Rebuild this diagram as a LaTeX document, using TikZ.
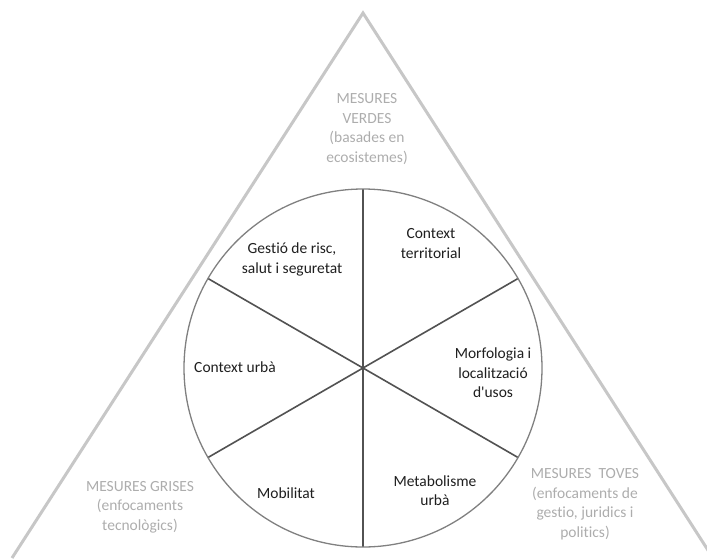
\documentclass[tikz,border=0pt]{standalone}
\usepackage{fontspec}
\setmainfont{Carlito}[Ligatures=NoCommon]
\usetikzlibrary{calc}
\begin{document}
\begin{tikzpicture}[x=1pt,y=-1pt,
  tri/.style={draw=black!22,line width=3pt},
  rim/.style={draw=black!50,line width=1.3pt},
  spoke/.style={draw=black!68,line width=1.6pt},
  lab/.style={inner sep=0pt,align=center,text=black!88,font=\fontsize{15.5}{19.5}\selectfont},
  glab/.style={inner sep=0pt,align=center,text=black!32,font=\fontsize{15.5}{19.5}\selectfont}]
\useasboundingbox (0,0) rectangle (707,558);
\begin{scope}
\clip (0,0) rectangle (707,558);
\coordinate (A) at (363,13);
\coordinate (L) at (12,558);
\coordinate (R) at (713,558);
\draw[tri,line join=miter] (L) -- (A) -- (R);
\end{scope}
\coordinate (O) at (363,368);
\fill[white] (O) circle[radius=179];
\foreach \a in {30,90,150,210,270,330}{
  \coordinate (E\a) at ($(O)+(\a:179)$);
}
\draw[spoke] (E90) -- (E270);
\draw[spoke] (E30) -- (E210);
\draw[spoke] (E150) -- (E330);
\draw[rim] (O) circle[radius=179];
\node[lab] (g) at (292,259.5) {Gestió de risc,\\salut i seguretat};
\node[lab] (ct) at (431,243.5) {Context\\territorial};
\node[lab] (cu) at (235,367) {Context urbà};
\node[lab] (mf) at (493,373) {Morfologia i\\localització\\d\textquotesingle usos};
\node[lab] (mb) at (286,493) {Mobilitat};
\node[lab] (mt) at (435,490.5) {Metabolisme\\urbà};
\node[glab] (mv) at (367,129) {MESURES\\VERDES\\(basades en\\ecosistemes)};
\node[glab] (mg) at (140,507) {MESURES GRISES\\(enfocaments\\tecnològics)};
\node[glab] (mtv) at (585,504) {MESURES\ \ TOVES\\(enfocaments de\\gestio, juridics i\\politics)};
\end{tikzpicture}
\end{document}
